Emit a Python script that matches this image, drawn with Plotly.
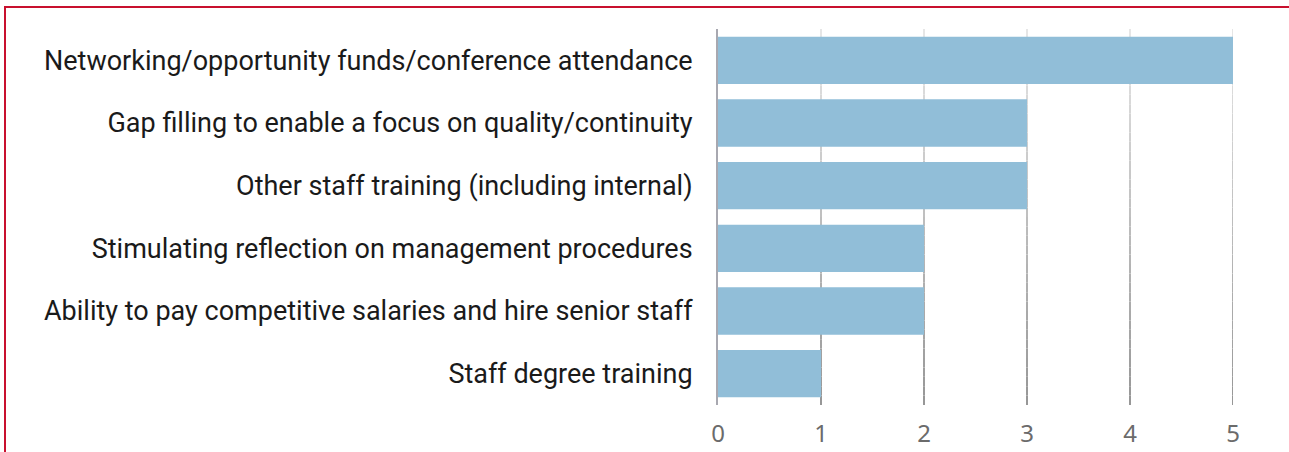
import plotly.graph_objects as go

categories = [
    "Networking/opportunity funds/conference attendance",
    "Gap filling to enable a focus on quality/continuity",
    "Other staff training (including internal)",
    "Stimulating reflection on management procedures",
    "Ability to pay competitive salaries and hire senior staff",
    "Staff degree training",
]
values = [5, 3, 3, 2, 2, 1]
tick_values = [0, 1, 2, 3, 4, 5]

W, H = 1289, 452
L, R, T, B = 718, 56, 29, 47
pw, ph = W - L - R, H - T - B

fig = go.Figure(go.Bar(
    x=values, y=categories, orientation="h",
    marker=dict(color="#91bed8", line=dict(width=0)),
    hoverinfo="x+y",
))

shapes = []
# gradient gridlines (light at top, darker at bottom)
n = 40
c_top = (232, 232, 232)
c_bot = (150, 150, 150)
for tv in tick_values[1:]:
    for i in range(n):
        f = (i + 0.5) / n
        col = tuple(int(c_bot[k] + (c_top[k] - c_bot[k]) * f) for k in range(3))
        shapes.append(dict(type="line", xref="x", yref="paper", x0=tv, x1=tv,
                           y0=i / n, y1=(i + 1) / n, layer="below",
                           line=dict(color="rgb(%d,%d,%d)" % col, width=2)))

# red frame (left and top edges visible)
fx0 = (5 - L) / pw
fy1 = 1 + (T - 7) / ph
shapes.append(dict(type="rect", xref="paper", yref="paper",
                   x0=fx0, x1=1 + (R + 20) / pw, y0=-(B + 20) / ph, y1=fy1,
                   line=dict(color="#c8102e", width=2), layer="above"))

fig.update_layout(
    width=W, height=H,
    margin=dict(l=L, r=R, t=T, b=B, pad=0, autoexpand=False),
    paper_bgcolor="white", plot_bgcolor="white",
    bargap=0.245,
    showlegend=False,
    shapes=shapes,
    font=dict(family="Roboto, sans-serif"),
    xaxis=dict(range=[0, 5], tickvals=tick_values, showgrid=False, zeroline=False,
               showline=False, ticks="", ticklabelstandoff=12, automargin=False,
               tickfont=dict(size=24, color="#6b6b6b", family="Noto Sans")),
    yaxis=dict(autorange="reversed", showgrid=False, zeroline=False, showline=True,
               linecolor="#a8a8b0", linewidth=2, ticks="", ticklabelstandoff=18,
               automargin=False,
               tickfont=dict(size=27, color="#1a1a1a", family="Roboto")),
)

fig.write_html("out.html", config={"displayModeBar": False},
               post_script="document.body.style.margin='0';document.body.style.padding='0';")
